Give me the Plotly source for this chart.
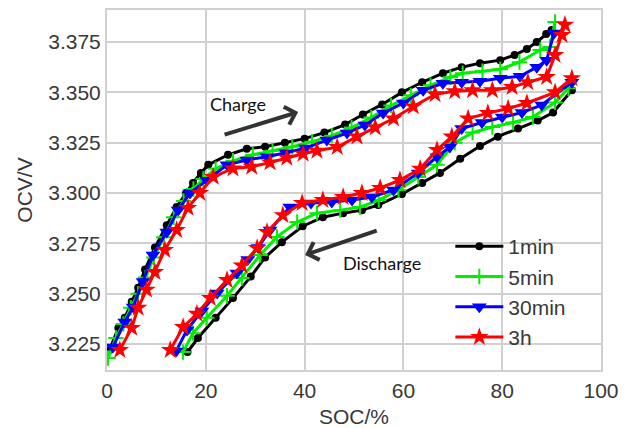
import plotly.graph_objects as go

# ---- OCV vs SOC data (charge branch and discharge branch per rest time) ----
chg_1min_soc = [0.5, 2.3, 3.6, 5.0, 6.3, 7.7, 9.7, 12.1, 14.1, 16.0, 17.4, 19.0, 20.5, 24.5, 28.3, 32.0, 36.0,
                40.0, 44.0, 48.2, 51.8, 55.7, 59.7, 63.8, 68.0, 71.8, 75.5, 79.6, 82.5, 85.0, 87.0, 88.9, 90.0]
chg_1min_v = [3.222, 3.233, 3.238, 3.246, 3.253, 3.262, 3.273, 3.284, 3.293, 3.300, 3.305, 3.310, 3.314, 3.319,
              3.322, 3.323, 3.325, 3.327, 3.330, 3.334, 3.339, 3.344, 3.350, 3.355, 3.3595, 3.3625, 3.3645, 3.366,
              3.3685, 3.3715, 3.375, 3.379, 3.381]
dis_1min_soc = [94.1, 90.3, 87.2, 83.2, 79.1, 75.5, 71.5, 67.4, 63.8, 59.7, 54.9, 51.6, 47.8, 43.7, 39.6, 35.4,
                32.0, 29.1, 25.5, 22.0, 18.4, 16.3]
dis_1min_v = [3.351, 3.340, 3.336, 3.332, 3.328, 3.3233, 3.317, 3.310, 3.305, 3.2995, 3.294, 3.2915, 3.290, 3.288,
              3.2835, 3.2756, 3.268, 3.2585, 3.2478, 3.238, 3.228, 3.221]

chg_5min_soc = [0.2, 1.8, 3.3, 4.8, 6.3, 7.8, 9.5, 11.5, 13.5, 15.5, 17.5, 19.5, 22.0, 25.5, 29.5, 33.5, 37.5,
                41.5, 45.5, 49.5, 53.5, 57.5, 61.5, 65.5, 69.5, 72.0, 76.0, 79.6, 83.5, 87.7, 89.7, 90.7]
chg_5min_v = [3.218, 3.228, 3.235, 3.243, 3.250, 3.258, 3.268, 3.278, 3.288, 3.296, 3.302, 3.307, 3.312, 3.316,
              3.319, 3.321, 3.323, 3.3255, 3.3285, 3.3325, 3.3375, 3.3435, 3.3485, 3.3535, 3.3575, 3.3595, 3.3605,
              3.3615, 3.365, 3.371, 3.3725, 3.385]
dis_5min_soc = [93.4, 90.7, 86.2, 82.2, 78.0, 74.0, 70.4, 66.8, 63.0, 59.0, 55.0, 51.2, 47.2, 42.5, 38.5, 34.4,
                31.0, 27.3, 24.3, 20.2, 17.4, 15.4]
dis_5min_v = [3.352, 3.345, 3.3377, 3.335, 3.3328, 3.330, 3.325, 3.314, 3.308, 3.3015, 3.2965, 3.293, 3.2915,
              3.290, 3.2856, 3.2782, 3.2692, 3.2578, 3.249, 3.238, 3.2304, 3.221]

chg_30min_soc = [1.2, 3.6, 5.3, 7.3, 9.3, 12.1, 14.4, 16.8, 20.2, 24.3, 28.3, 32.4, 36.2, 40.2, 44.5, 48.6, 52.2,
                 55.9, 60.0, 64.0, 68.0, 71.8, 75.5, 79.6, 83.6, 87.0, 89.0, 90.5]
chg_30min_v = [3.2235, 3.236, 3.2434, 3.256, 3.2692, 3.2806, 3.2916, 3.300, 3.3064, 3.314, 3.3164, 3.318, 3.320,
               3.3223, 3.3263, 3.3298, 3.3338, 3.3397, 3.3447, 3.351, 3.3545, 3.355, 3.3555, 3.357, 3.358, 3.3625,
               3.366, 3.3795]
dis_30min_soc = [94.1, 88.0, 84.0, 80.0, 75.9, 71.8, 69.4, 66.8, 63.0, 58.0, 53.6, 49.6, 45.5, 41.3, 37.0, 33.0,
                 30.6, 28.5, 26.3, 22.3, 19.2, 16.2, 14.0]
dis_30min_v = [3.355, 3.3437, 3.340, 3.3377, 3.335, 3.332, 3.3228, 3.318, 3.310, 3.3015, 3.298, 3.2965, 3.2955,
               3.295, 3.293, 3.2816, 3.273, 3.267, 3.2603, 3.2503, 3.2414, 3.232, 3.2215]

chg_3h_soc = [2.6, 5.0, 6.3, 8.0, 9.7, 11.7, 14.1, 16.4, 18.8, 21.5, 25.5, 29.3, 33.0, 36.4, 39.7, 42.5, 46.6,
              50.6, 54.3, 58.0, 62.0, 66.4, 70.4, 74.0, 78.0, 82.0, 85.2, 89.0, 90.7, 92.1, 92.7]
chg_3h_v = [3.222, 3.233, 3.243, 3.252, 3.2607, 3.2717, 3.2816, 3.2926, 3.300, 3.308, 3.3122, 3.313, 3.3152,
            3.3175, 3.3195, 3.321, 3.3228, 3.328, 3.3325, 3.337, 3.343, 3.349, 3.3505, 3.351, 3.351, 3.3526, 3.355,
            3.3576, 3.3685, 3.3785, 3.3835]
dis_3h_soc = [94.1, 90.7, 85.0, 81.2, 77.1, 73.1, 69.8, 66.8, 63.4, 59.3, 55.3, 51.6, 47.8, 43.7, 39.5, 35.6,
              32.4, 30.4, 27.3, 24.3, 20.9, 18.2, 15.4, 12.8]
dis_3h_v = [3.357, 3.350, 3.3447, 3.342, 3.3397, 3.337, 3.328, 3.3214, 3.312, 3.3064, 3.3025, 3.300, 3.298,
            3.2965, 3.295, 3.289, 3.2806, 3.2727, 3.264, 3.2568, 3.2478, 3.240, 3.2334, 3.222]

series_names = ["1min", "5min", "30min", "3h"]
x_ticks = [0, 20, 40, 60, 80, 100]
y_ticks = [3.225, 3.250, 3.275, 3.300, 3.325, 3.350, 3.375]

series = [
    (chg_1min_soc, chg_1min_v, dis_1min_soc, dis_1min_v),
    (chg_5min_soc, chg_5min_v, dis_5min_soc, dis_5min_v),
    (chg_30min_soc, chg_30min_v, dis_30min_soc, dis_30min_v),
    (chg_3h_soc, chg_3h_v, dis_3h_soc, dis_3h_v),
]
colors = ["#000000", "#00ee00", "#0000ff", "#ff0000"]
markers = [
    dict(symbol="circle", size=8, color="#000000"),
    dict(symbol="cross-thin", size=11, color="#00ee00", line=dict(width=2, color="#00ee00")),
    dict(symbol="triangle-down", size=13, color="#0000ff"),
    dict(symbol="star", size=14, color="#ff0000", line=dict(width=0)),
]

fig = go.Figure()
for name, (cs, cv, ds, dv), col, mk in zip(series_names, series, colors, markers):
    # charge and discharge branches in one trace, separated by a gap
    fig.add_trace(go.Scatter(
        x=list(cs) + [None] + list(ds),
        y=list(cv) + [None] + list(dv),
        mode="lines+markers",
        name=name,
        line=dict(color=col, width=3),
        marker=mk,
        connectgaps=False,
    ))

grid_col = "#d0d0d0"
axis_font = dict(family="Liberation Sans, Arial, sans-serif", size=21, color="#383838")

fig.update_xaxes(
    range=[0, 100], tickvals=x_ticks, ticktext=[str(t) for t in x_ticks],
    showgrid=True, gridcolor=grid_col, gridwidth=1.5,
    showline=True, linecolor=grid_col, linewidth=2, mirror=True,
    zeroline=False, ticks="", tickfont=axis_font, ticklabelstandoff=1, automargin=False,
    title=dict(text="SOC/%", font=axis_font, standoff=14),
)
fig.update_yaxes(
    range=[3.2121, 3.3909], tickvals=y_ticks, ticktext=[f"{t:.3f}" for t in y_ticks],
    showgrid=True, gridcolor=grid_col, gridwidth=1.5,
    showline=True, linecolor=grid_col, linewidth=2, mirror=True,
    zeroline=False, ticks="", tickfont=axis_font, automargin=False,
    title=dict(text="OCV/V", font=axis_font, standoff=10),
)

ann_font = dict(family="Lato, Open Sans, sans-serif", size=18, color="#111111")
arrow_col = "#333333"
fig.add_annotation(x=20.4, y=3.3442, text="Charge", showarrow=False, font=ann_font,
                   xanchor="left", yanchor="middle")
fig.add_annotation(x=38.7, y=3.3402, ax=23.5, ay=3.3288, axref="x", ayref="y",
                   text="", showarrow=True, arrowhead=4, arrowsize=0.9, arrowwidth=4, arrowcolor=arrow_col)
fig.add_annotation(x=47.4, y=3.2652, text="Discharge", showarrow=False, font=ann_font,
                   xanchor="left", yanchor="middle")
fig.add_annotation(x=40.1, y=3.2692, ax=54.9, ay=3.2816, axref="x", ayref="y",
                   text="", showarrow=True, arrowhead=4, arrowsize=0.9, arrowwidth=4, arrowcolor=arrow_col)

fig.update_layout(
    width=632, height=428,
    margin=dict(l=107, r=31, t=10, b=58),
    paper_bgcolor="white", plot_bgcolor="white",
    showlegend=True,
    legend=dict(x=0.695, y=0.40, xanchor="left", yanchor="top",
                bgcolor="rgba(0,0,0,0)", borderwidth=0,
                font=dict(family="Liberation Sans, Arial, sans-serif", size=21, color="#383838"),
                tracegroupgap=0, itemwidth=48),
)

fig.write_html("out.html")
